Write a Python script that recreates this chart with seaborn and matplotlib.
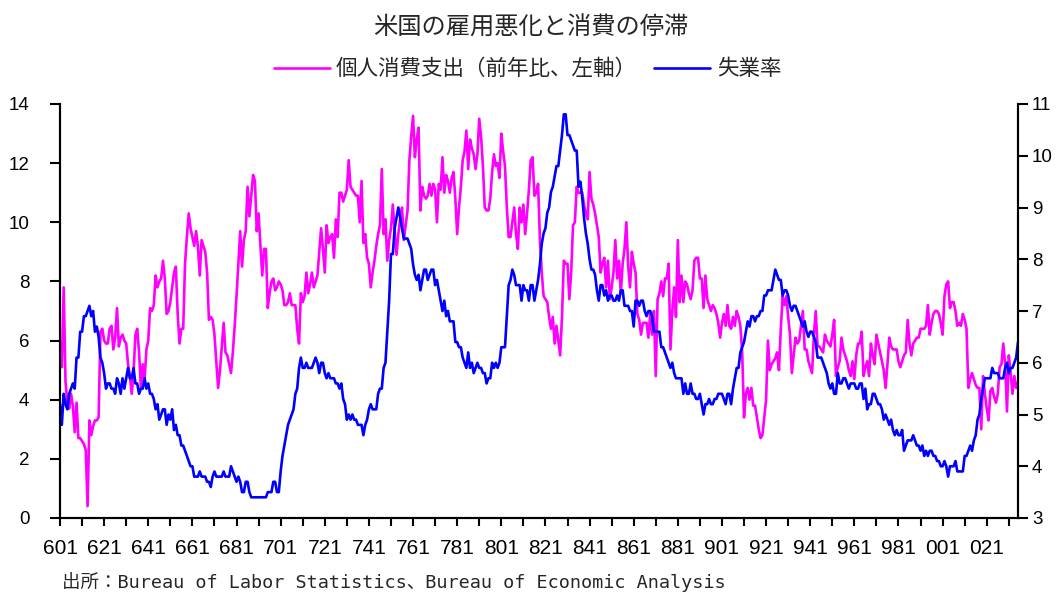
import numpy as np
import pandas as pd
import matplotlib
matplotlib.use("Agg")
import matplotlib.pyplot as plt
import seaborn as sns

START_YEAR = 1960  # monthly data, 1960/1 - 2003/6

# 個人消費支出（前年比、%）
pce_yoy = [
    5.9, 5.1, 7.8, 4.6, 3.9, 3.7, 4.2, 3.8, 2.9, 3.9, 2.7, 2.7,        # 1960
    2.6, 2.5, 2.3, 0.4, 3.3, 2.8, 3.1, 3.3, 3.3, 3.4, 6.3, 6.4,        # 1961
    6.0, 5.9, 5.9, 6.4, 6.5, 5.7, 6.1, 7.1, 5.8, 6.1, 6.2, 6.0,        # 1962
    5.9, 5.2, 4.8, 4.2, 4.9, 6.2, 6.4, 5.6, 4.4, 5.2, 4.7, 5.7,        # 1963
    6.0, 7.1, 7.0, 7.2, 8.2, 7.8, 8.0, 8.1, 8.7, 8.1, 6.9, 7.0,        # 1964
    7.3, 7.8, 8.3, 8.5, 6.9, 5.9, 6.4, 6.4, 8.6, 9.5, 10.3, 9.8,       # 1965
    9.5, 9.2, 9.7, 9.2, 8.2, 9.4, 9.2, 9.0, 8.3, 6.7, 6.8, 6.7,        # 1966
    6.2, 5.3, 4.4, 5.0, 5.8, 6.6, 5.6, 5.5, 5.2, 4.9, 5.6, 6.5,        # 1967
    7.5, 8.6, 9.7, 8.5, 9.4, 9.7, 11.2, 10.2, 10.9, 11.6, 11.4, 9.7,   # 1968
    10.3, 9.2, 8.2, 9.1, 9.1, 7.1, 7.6, 8.0, 8.1, 7.7, 7.8, 8.0,       # 1969
    7.9, 7.7, 7.2, 7.2, 7.3, 7.6, 7.2, 7.2, 7.2, 6.4, 5.9, 7.6,        # 1970
    7.3, 7.5, 8.3, 7.6, 7.9, 8.3, 7.8, 8.0, 8.2, 9.0, 9.8, 9.1,        # 1971
    8.3, 9.9, 9.3, 9.5, 9.6, 8.8, 10.1, 9.5, 11.0, 11.0, 10.7, 10.9,   # 1972
    11.1, 12.1, 11.2, 11.1, 11.0, 10.9, 10.9, 10.0, 11.4, 9.3, 9.6, 8.8,   # 1973
    8.6, 7.8, 8.3, 8.7, 9.2, 9.6, 9.9, 11.8, 9.6, 10.1, 8.7, 9.4,      # 1974
    9.8, 10.6, 9.7, 8.9, 9.6, 10.1, 10.5, 9.4, 9.9, 10.4, 12.1, 12.9,  # 1975
    13.6, 12.2, 12.8, 13.2, 10.4, 11.2, 10.9, 10.8, 10.9, 11.3, 10.9, 11.3,  # 1976
    11.1, 10.0, 11.3, 11.1, 12.2, 11.0, 11.6, 11.4, 11.0, 11.5, 11.7, 10.8,  # 1977
    9.6, 10.5, 11.2, 12.1, 12.4, 13.1, 11.8, 12.8, 12.5, 12.3, 11.8, 12.3,   # 1978
    13.5, 12.9, 11.9, 10.5, 10.4, 10.4, 10.8, 11.7, 12.3, 11.9, 12.0, 11.5,  # 1979
    13.0, 12.4, 11.9, 10.5, 9.5, 9.5, 10.0, 10.5, 9.6, 9.1, 10.5, 10.0,      # 1980
    10.6, 9.6, 10.3, 11.1, 12.1, 12.2, 10.9, 11.0, 11.3, 9.4, 8.3, 7.5,      # 1981
    7.4, 7.3, 6.8, 6.4, 6.8, 5.9, 6.5, 6.0, 5.5, 6.8, 8.7, 8.6,        # 1982
    8.6, 7.4, 8.3, 9.9, 10.0, 11.2, 11.0, 11.0, 11.0, 10.6, 10.3, 10.1,  # 1983
    11.7, 10.8, 10.6, 10.3, 9.9, 9.5, 8.3, 8.6, 8.8, 7.8, 8.7, 7.4,    # 1984
    7.8, 8.3, 9.4, 8.1, 8.7, 7.6, 8.6, 9.1, 10.0, 8.5, 7.8, 9.0,       # 1985
    8.6, 8.3, 6.9, 6.7, 6.2, 6.6, 6.6, 6.6, 6.1, 6.9, 6.2, 7.0,        # 1986
    4.8, 7.4, 7.6, 8.0, 7.5, 8.1, 8.1, 8.6, 5.7, 7.0, 7.8, 6.8,        # 1987
    9.4, 7.3, 8.2, 7.3, 8.0, 7.9, 7.6, 7.4, 7.7, 8.7, 8.8, 8.8,        # 1988
    8.1, 8.1, 7.1, 8.2, 7.4, 7.2, 7.0, 7.2, 7.1, 6.9, 6.6, 6.1,        # 1989
    6.6, 6.9, 6.5, 7.2, 6.5, 6.4, 6.8, 6.5, 7.0, 6.8, 6.5, 5.6,        # 1990
    3.4, 4.2, 4.4, 4.0, 4.4, 3.8, 3.8, 3.4, 3.0, 2.7, 2.8, 3.4,        # 1991
    4.0, 6.0, 5.0, 5.2, 5.3, 5.4, 5.6, 5.0, 6.4, 7.5, 7.2, 7.5,        # 1992
    6.8, 6.2, 4.9, 5.5, 6.1, 5.9, 6.0, 6.5, 7.0, 5.7, 5.7, 5.3,        # 1993
    5.1, 4.9, 6.2, 7.0, 5.8, 5.8, 5.7, 5.6, 6.2, 6.0, 5.9, 5.8,        # 1994
    6.2, 6.7, 4.8, 5.1, 5.3, 6.1, 5.7, 5.5, 5.3, 5.0, 4.8, 5.3,        # 1995
    4.7, 5.5, 5.9, 5.9, 6.3, 4.8, 5.1, 5.3, 4.8, 5.9, 5.5, 5.2,        # 1996
    6.2, 5.9, 5.6, 5.3, 5.0, 4.4, 5.2, 6.1, 5.8, 5.7, 5.7, 5.7,        # 1997
    5.3, 5.1, 5.3, 5.5, 5.6, 6.7, 5.9, 5.5, 5.9, 6.0, 6.1, 6.1,        # 1998
    6.4, 6.4, 6.4, 6.5, 7.2, 6.2, 6.6, 6.9, 7.0, 7.0, 6.9, 6.6,        # 1999
    6.2, 7.5, 7.9, 8.0, 7.1, 7.3, 7.3, 7.0, 6.5, 6.6, 6.5, 6.9,        # 2000
    6.7, 6.4, 4.4, 4.7, 4.9, 4.7, 4.5, 4.4, 4.4, 3.0, 4.8, 4.2,        # 2001
    3.7, 3.3, 4.3, 4.4, 4.1, 3.9, 4.2, 5.1, 5.2, 5.9, 5.2, 3.6,        # 2002
    5.5, 4.9, 4.2, 4.8, 4.4, 4.6,                                      # 2003
]

# 失業率（%）
unemployment = [
    5.2, 4.8, 5.4, 5.2, 5.1, 5.4, 5.5, 5.6, 5.5, 6.1, 6.1, 6.6,   # 1960
    6.6, 6.9, 6.9, 7.0, 7.1, 6.9, 7.0, 6.6, 6.7, 6.5, 6.1, 6.0,   # 1961
    5.8, 5.5, 5.6, 5.6, 5.5, 5.5, 5.4, 5.7, 5.6, 5.4, 5.7, 5.5,   # 1962
    5.7, 5.9, 5.7, 5.7, 5.9, 5.6, 5.6, 5.4, 5.5, 5.5, 5.7, 5.5,   # 1963
    5.6, 5.4, 5.4, 5.3, 5.1, 5.2, 4.9, 5.0, 5.1, 5.1, 4.8, 5.0,   # 1964
    4.9, 5.1, 4.7, 4.8, 4.6, 4.6, 4.4, 4.4, 4.3, 4.2, 4.1, 4.0,   # 1965
    4.0, 3.8, 3.8, 3.8, 3.9, 3.8, 3.8, 3.8, 3.7, 3.7, 3.6, 3.8,   # 1966
    3.9, 3.8, 3.8, 3.8, 3.8, 3.9, 3.8, 3.8, 3.8, 4.0, 3.9, 3.8,   # 1967
    3.7, 3.8, 3.7, 3.5, 3.5, 3.7, 3.7, 3.5, 3.4, 3.4, 3.4, 3.4,   # 1968
    3.4, 3.4, 3.4, 3.4, 3.4, 3.5, 3.5, 3.5, 3.7, 3.7, 3.5, 3.5,   # 1969
    3.9, 4.2, 4.4, 4.6, 4.8, 4.9, 5.0, 5.1, 5.4, 5.5, 5.9, 6.1,   # 1970
    5.9, 5.9, 6.0, 5.9, 5.9, 5.9, 6.0, 6.1, 6.0, 5.8, 6.0, 6.0,   # 1971
    5.8, 5.7, 5.8, 5.7, 5.7, 5.7, 5.6, 5.6, 5.5, 5.6, 5.3, 5.2,   # 1972
    4.9, 5.0, 4.9, 5.0, 4.9, 4.9, 4.8, 4.8, 4.8, 4.6, 4.8, 4.9,   # 1973
    5.1, 5.2, 5.1, 5.1, 5.1, 5.4, 5.5, 5.5, 5.9, 6.0, 6.6, 7.2,   # 1974
    8.1, 8.1, 8.6, 8.8, 9.0, 8.8, 8.6, 8.4, 8.4, 8.4, 8.3, 8.2,   # 1975
    7.9, 7.7, 7.6, 7.7, 7.4, 7.6, 7.8, 7.8, 7.6, 7.7, 7.8, 7.8,   # 1976
    7.5, 7.6, 7.4, 7.2, 7.0, 7.2, 6.9, 7.0, 6.8, 6.8, 6.8, 6.4,   # 1977
    6.4, 6.3, 6.3, 6.1, 6.0, 5.9, 6.2, 5.9, 6.0, 5.8, 5.9, 6.0,   # 1978
    5.9, 5.9, 5.8, 5.8, 5.6, 5.7, 5.7, 6.0, 5.9, 6.0, 5.9, 6.0,   # 1979
    6.3, 6.3, 6.3, 6.9, 7.5, 7.6, 7.8, 7.7, 7.5, 7.5, 7.5, 7.2,   # 1980
    7.5, 7.4, 7.4, 7.2, 7.5, 7.5, 7.2, 7.4, 7.6, 7.9, 8.3, 8.5,   # 1981
    8.6, 8.9, 9.0, 9.3, 9.4, 9.6, 9.8, 9.8, 10.1, 10.4, 10.8, 10.8,  # 1982
    10.4, 10.4, 10.3, 10.2, 10.1, 10.1, 9.4, 9.5, 9.2, 8.8, 8.5, 8.3,  # 1983
    8.0, 7.8, 7.8, 7.7, 7.4, 7.2, 7.5, 7.5, 7.3, 7.4, 7.2, 7.3,   # 1984
    7.3, 7.2, 7.2, 7.3, 7.2, 7.4, 7.4, 7.1, 7.1, 7.1, 7.0, 7.0,   # 1985
    6.7, 7.2, 7.2, 7.1, 7.2, 7.2, 7.0, 6.9, 7.0, 7.0, 6.9, 6.6,   # 1986
    6.6, 6.6, 6.6, 6.3, 6.3, 6.2, 6.1, 6.0, 5.9, 6.0, 5.8, 5.7,   # 1987
    5.7, 5.7, 5.7, 5.4, 5.6, 5.4, 5.4, 5.6, 5.4, 5.4, 5.3, 5.3,   # 1988
    5.4, 5.2, 5.0, 5.2, 5.2, 5.3, 5.2, 5.2, 5.3, 5.3, 5.4, 5.4,   # 1989
    5.4, 5.3, 5.2, 5.4, 5.4, 5.2, 5.5, 5.7, 5.9, 5.9, 6.2, 6.3,   # 1990
    6.4, 6.6, 6.8, 6.7, 6.9, 6.9, 6.8, 6.9, 6.9, 7.0, 7.0, 7.3,   # 1991
    7.3, 7.4, 7.4, 7.4, 7.6, 7.8, 7.7, 7.6, 7.6, 7.3, 7.4, 7.4,   # 1992
    7.3, 7.1, 7.0, 7.1, 7.1, 7.0, 6.9, 6.8, 6.7, 6.8, 6.6, 6.5,   # 1993
    6.6, 6.6, 6.5, 6.4, 6.1, 6.1, 6.1, 6.0, 5.9, 5.8, 5.6, 5.5,   # 1994
    5.6, 5.4, 5.4, 5.8, 5.6, 5.6, 5.7, 5.7, 5.6, 5.5, 5.6, 5.6,   # 1995
    5.6, 5.5, 5.5, 5.6, 5.6, 5.3, 5.5, 5.1, 5.2, 5.2, 5.4, 5.4,   # 1996
    5.3, 5.2, 5.2, 5.1, 4.9, 5.0, 4.9, 4.8, 4.9, 4.7, 4.6, 4.7,   # 1997
    4.6, 4.6, 4.7, 4.3, 4.4, 4.5, 4.5, 4.5, 4.6, 4.5, 4.4, 4.4,   # 1998
    4.3, 4.4, 4.2, 4.3, 4.2, 4.3, 4.3, 4.2, 4.2, 4.1, 4.1, 4.0,   # 1999
    4.0, 4.1, 4.0, 3.8, 4.0, 4.0, 4.0, 4.1, 3.9, 3.9, 3.9, 3.9,   # 2000
    4.2, 4.2, 4.3, 4.4, 4.3, 4.5, 4.6, 4.9, 5.0, 5.3, 5.5, 5.7,   # 2001
    5.7, 5.7, 5.7, 5.9, 5.8, 5.8, 5.8, 5.7, 5.7, 5.7, 5.9, 6.0,   # 2002
    5.8, 5.9, 5.9, 6.0, 6.1, 6.4,                                 # 2003
]

title = "米国の雇用悪化と消費の停滞"
pce_label = "個人消費支出（前年比、左軸）"
unemp_label = "失業率"
source_note = "出所：Bureau of Labor Statistics、Bureau of Economic Analysis"

pce_color = "#FF00FF"
unemp_color = "#0000FF"

df = pd.DataFrame({
    "month": np.arange(len(pce_yoy)),
    "pce": pce_yoy,
    "unemp": unemployment,
})
n = len(df)

sns.set_style("ticks")
plt.rcParams["font.family"] = ["Liberation Sans", "Noto Sans CJK JP"]

fig = plt.figure(figsize=(10.56, 5.92), dpi=100)
ax = fig.add_axes([60 / 1056, 74 / 592, 958 / 1056, 414 / 592])
ax2 = ax.twinx()

sns.lineplot(data=df, x="month", y="pce", ax=ax, color=pce_color, lw=1.9, legend=False)
sns.lineplot(data=df, x="month", y="unemp", ax=ax2, color=unemp_color, lw=1.9, legend=False)

ax.set_xlim(0, n - 1)
ax.set_ylim(0, 14)
ax2.set_ylim(3, 11)
ax.set_yticks(np.arange(0, 15, 2))
ax2.set_yticks(np.arange(3, 12, 1))

# ticks every year, labels every other year ("601" = 1960/1)
major = np.arange(0, n, 24)
ax.set_xticks(major)
ax.set_xticklabels([f"{(START_YEAR + m // 12) % 100:02d}1" for m in major])
ax.set_xticks(np.arange(12, n, 24), minor=True)
ax.set_xlabel("")
ax.set_ylabel("")
ax2.set_ylabel("")

for a in (ax, ax2):
    a.spines["top"].set_visible(False)
    for side in ("left", "right", "bottom"):
        a.spines[side].set_color("black")
        a.spines[side].set_linewidth(1.5)

ax.tick_params(axis="y", direction="out", length=7, width=1.5, pad=15,
               labelsize=13.5, colors="black")
ax2.tick_params(axis="y", direction="out", length=7, width=1.5, pad=3,
                labelsize=13.5, colors="black")
ax.tick_params(axis="x", which="both", direction="out", length=6, width=1.5,
               pad=9, labelsize=15, colors="black")
for lbl in ax.get_xticklabels():
    lbl.set_fontfamily(["Liberation Sans Narrow", "Liberation Sans"])

handles = [ax.get_lines()[0], ax2.get_lines()[0]]
fig.legend(handles, [pce_label, unemp_label], loc="center",
           bbox_to_anchor=(0.4995, 0.882), ncol=2, frameon=False,
           fontsize=15.5, handlelength=2.6, handletextpad=0.3,
           columnspacing=0.8)

fig.text(0.503, 0.953, title, ha="center", va="center", fontsize=17.5,
         family=["Noto Sans CJK JP"])
fig.text(62 / 1056, 1 - 582 / 592, source_note, ha="left", va="center",
         fontsize=13.3, family=["DejaVu Sans Mono", "Noto Sans CJK JP"])

fig.savefig("out.png", dpi=100)
